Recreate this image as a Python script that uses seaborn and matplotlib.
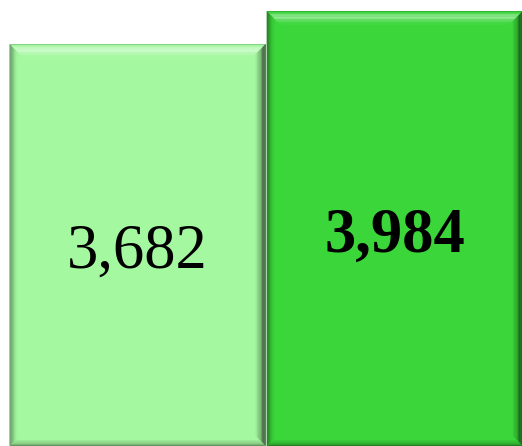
import numpy as np
import pandas as pd
import seaborn as sns
import matplotlib.pyplot as plt
from matplotlib.patches import Polygon
from matplotlib.colors import to_rgb

# data
categories = ["A", "B"]
values = [3682, 3984]
bar_colors = ["#a4f8a0", "#3ad63a"]
label_weights = ["normal", "bold"]

df = pd.DataFrame({"cat": categories, "val": values})

sns.set_theme(style="white")
plt.rcParams["font.family"] = ["Liberation Serif", "DejaVu Serif"]

fig = plt.figure(figsize=(5.22, 4.46), dpi=100)
ax = fig.add_axes([0, 0, 1, 1])
sns.barplot(data=df, x="cat", y="val", hue="cat", palette=bar_colors,
            width=0.996, legend=False, ax=ax, saturation=1)
ax.set_xlim(-0.535, 1.495)
ax.set_ylim(0, 4085)
ax.axis("off")


def shade(c, f):
    # f > 0 lightens, f < 0 darkens
    c = np.array(to_rgb(c))
    return tuple(c + (1 - c) * f) if f > 0 else tuple(c * (1 + f))


def bevel(ax, patch, color):
    """Fake a bevel by drawing thin strips around the bar edge (pixel units)."""
    x0, y0 = ax.transData.transform((patch.get_x(), patch.get_y()))
    x1, y1 = ax.transData.transform((patch.get_x() + patch.get_width(),
                                     patch.get_y() + patch.get_height()))
    # sides: (depth px, shade factors from edge inward)
    sides = {
        "top": (14, [-0.15, 0.1, 0.3, 0.42, 0.45, 0.38, 0.25, 0.14, 0.07, 0.03]),
        "left": (8, [-0.45, -0.35, -0.25, -0.18, -0.12, -0.07, -0.03]),
        "right": (10, [-0.75, -0.6, -0.5, -0.4, -0.3, -0.2, -0.12, -0.06]),
        "bottom": (6, [-0.4, -0.3, -0.2, -0.12, -0.06]),
    }
    for side, (d, facs) in sides.items():
        n = len(facs)
        for i, f in enumerate(facs):
            a = d * i / n
            b = d * (i + 1) / n
            if side == "top":
                pts = [(x0 + a, y1 - a), (x1 - a, y1 - a), (x1 - b, y1 - b), (x0 + b, y1 - b)]
            elif side == "bottom":
                pts = [(x0 + a, y0 + a), (x1 - a, y0 + a), (x1 - b, y0 + b), (x0 + b, y0 + b)]
            elif side == "left":
                pts = [(x0 + a, y0 + a), (x0 + a, y1 - a), (x0 + b, y1 - b), (x0 + b, y0 + b)]
            else:
                pts = [(x1 - a, y0 + a), (x1 - a, y1 - a), (x1 - b, y1 - b), (x1 - b, y0 + b)]
            ax.add_patch(Polygon(pts, closed=True, transform=None,
                                 facecolor=shade(color, f), edgecolor="none", zorder=3))


bars = [p for p in ax.patches if p.get_height() > 0]
bars.sort(key=lambda p: p.get_x())
for patch, c, v, w in zip(bars, bar_colors, values, label_weights):
    patch.set_edgecolor("none")
    bevel(ax, patch, c)
    ax.text(patch.get_x() + patch.get_width() / 2, v * 0.48, f"{v:,}",
            ha="center", va="center", fontsize=45, fontweight=w,
            color="black", zorder=5)

fig.savefig("out.png", dpi=100)
